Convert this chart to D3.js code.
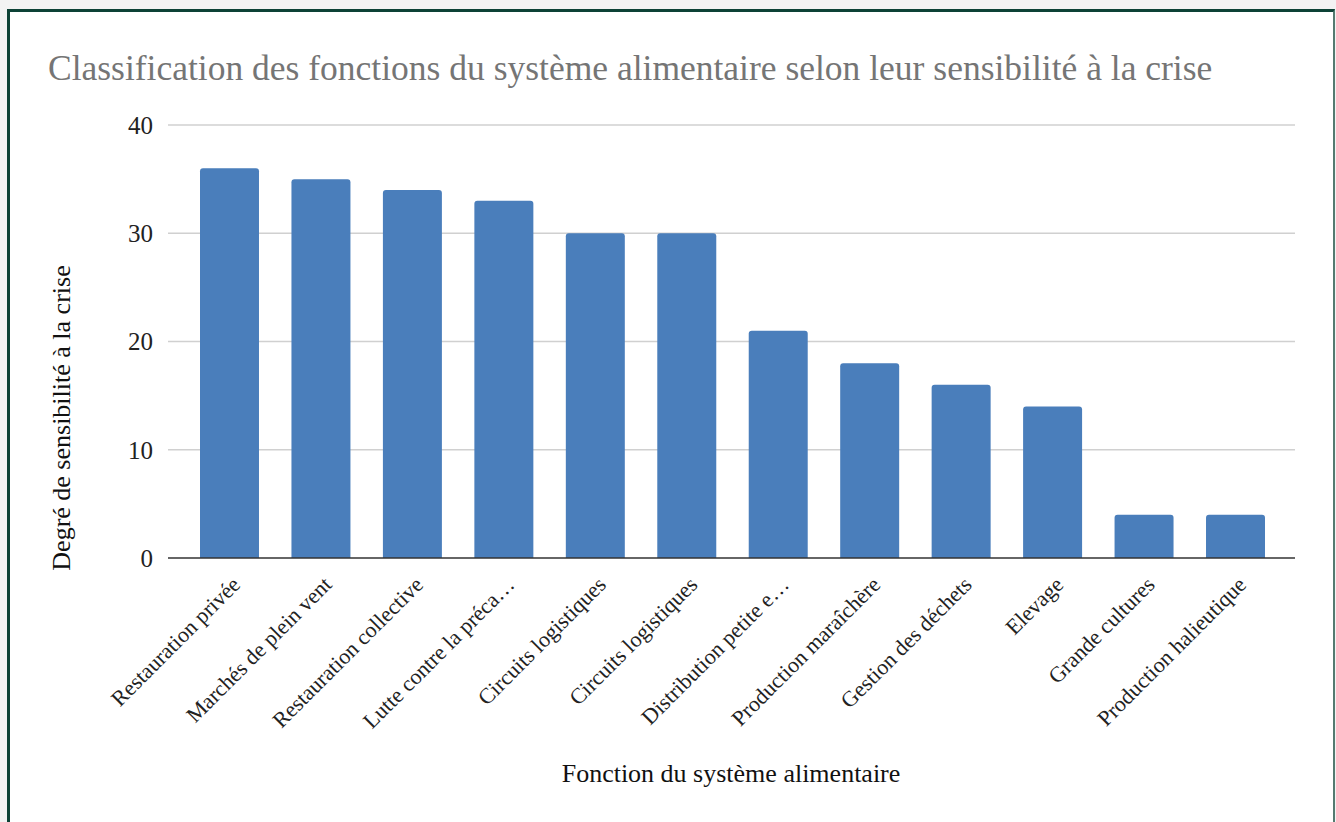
<!DOCTYPE html>
<html>
<head>
<meta charset="utf-8">
<script src="https://cdn.jsdelivr.net/npm/d3@7"></script>
<style>
  body { margin: 0; background: #f3f3f3; width: 1336px; height: 822px; overflow: hidden; position: relative; }
  #frame { position: absolute; left: 7px; top: 9px; width: 1323px; height: 830px; background: #fff;
           border-top: 3px solid #0d4236; border-left: 3px solid #0d4236; border-right: 2px solid #557a70; }
  #chart { position: absolute; left: 0; top: 0; }
  text { font-family: "Liberation Serif", "Times New Roman", serif; }
</style>
</head>
<body>
<div id="frame"></div>
<div id="chart"></div>
<script>
// valeurs
const categories = [
    'Restauration privée', 'Marchés de plein vent', 'Restauration collective', 'Lutte contre la préca…',
    'Circuits logistiques', 'Circuits logistiques', 'Distribution petite e…', 'Production maraîchère',
    'Gestion des déchets', 'Elevage', 'Grande cultures', 'Production halieutique'
]
const values = [36, 35, 34, 33, 30, 30, 21, 18, 16, 14, 4, 4]
const yTicks = [0, 10, 20, 30, 40]

const title = 'Classification des fonctions du système alimentaire selon leur sensibilité à la crise'
const xTitle = 'Fonction du système alimentaire'
const yTitle = 'Degré de sensibilité à la crise'

const width = 1336, height = 822
const gridLeft = 168, gridRight = 1295

const svg = d3.select('#chart').append('svg')
    .attr('width', width)
    .attr('height', height)

// categories can repeat (Circuits logistiques x2), so the band domain is the index
const x = d3.scaleBand()
    .domain(d3.range(categories.length))
    .range([200, 1265])
    .paddingInner(0.355)
    .paddingOuter(0)

const y = d3.scaleLinear()
    .domain([0, 40])
    .range([558, 125])

// gridlines
svg.append('g')
    .selectAll('line')
    .data(yTicks.filter(t => t > 0))
    .enter()
    .append('line')
        .attr('x1', gridLeft).attr('x2', gridRight)
        .attr('y1', d => y(d)).attr('y2', d => y(d))
        .style('stroke', '#d0d0d0')
        .style('stroke-width', 1.5)

// y tick labels
svg.append('g')
    .selectAll('text')
    .data(yTicks)
    .enter()
    .append('text')
        .attr('x', 153)
        .attr('y', d => y(d))
        .attr('dy', '0.35em')
        .style('text-anchor', 'end')
        .style('font-size', '25px')
        .style('fill', '#222')
        .text(d => d)

// bars with rounded tops
const r = 3
svg.append('g')
    .selectAll('path')
    .data(values)
    .enter()
    .append('path')
        .attr('d', (d, i) => {
            const x0 = x(i), x1 = x(i) + x.bandwidth(), y0 = y(0), y1 = y(d)
            return `M${x0},${y0} V${y1 + r} Q${x0},${y1} ${x0 + r},${y1} H${x1 - r} Q${x1},${y1} ${x1},${y1 + r} V${y0} Z`
        })
        .style('fill', '#4a7ebb')

// baseline
svg.append('line')
    .attr('x1', gridLeft).attr('x2', gridRight)
    .attr('y1', y(0)).attr('y2', y(0))
    .style('stroke', '#333')
    .style('stroke-width', 1.5)

// x tick labels, rotated
svg.append('g')
    .selectAll('text')
    .data(categories)
    .enter()
    .append('text')
        .attr('transform', (d, i) => `translate(${x(i) + x.bandwidth() / 2 + 12},${y(0) + 28}) rotate(-45)`)
        .style('text-anchor', 'end')
        .style('font-size', '22px')
        .style('fill', '#222')
        .text(d => d)

// titles
svg.append('text')
    .attr('x', 48).attr('y', 80)
    .style('font-size', '35.5px')
    .style('fill', '#757575')
    .text(title)

svg.append('text')
    .attr('x', 731).attr('y', 782)
    .style('text-anchor', 'middle')
    .style('font-size', '26px')
    .style('fill', '#111')
    .text(xTitle)

svg.append('text')
    .attr('transform', 'translate(70,418) rotate(-90)')
    .style('text-anchor', 'middle')
    .style('font-size', '26px')
    .style('fill', '#111')
    .text(yTitle)
</script>
</body>
</html>
